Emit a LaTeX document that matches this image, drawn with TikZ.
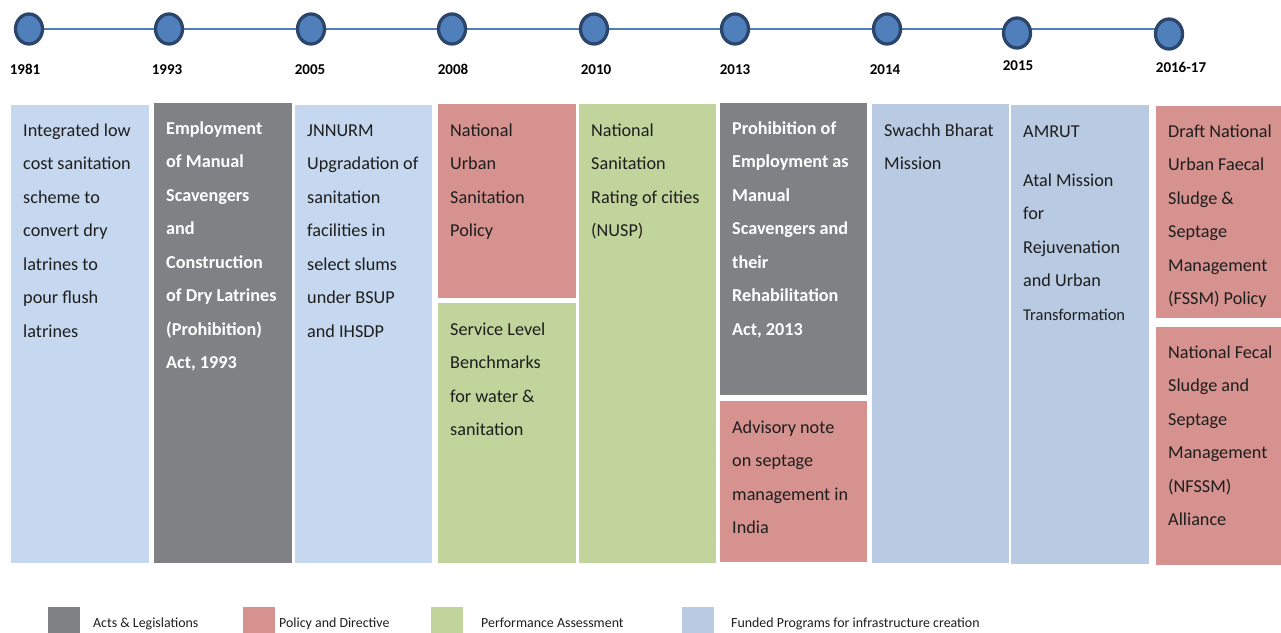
\documentclass[tikz,border=0pt]{standalone}
\usepackage{fontspec}
\setmainfont{Carlito}
\definecolor{cgray}{HTML}{808185}
\definecolor{cpink}{HTML}{D5928F}
\definecolor{cgreen}{HTML}{C1D49C}
\definecolor{cblueA}{HTML}{C6D8EF}
\definecolor{cblueB}{HTML}{B9CBE2}
\definecolor{cdot}{HTML}{5080BC}
\definecolor{cdotb}{HTML}{2C466B}
\definecolor{cline}{HTML}{4F7FBA}
\definecolor{ctext}{HTML}{1E1E1E}
\tikzset{
  box/.style={inner sep=0pt, outer sep=0pt, draw=none, anchor=north west},
  txt/.style={anchor=north west, inner sep=0pt, align=left, text=ctext,
    font=\fontsize{18.2}{33.5}\selectfont},
  btxt/.style={txt, text=white, font=\fontsize{18.2}{33.5}\selectfont\bfseries},
  dot/.style={ellipse, fill=cdot, draw=cdotb, line width=3.3pt,
    minimum width=27pt, minimum height=30pt, inner sep=0pt},
  year/.style={font=\fontsize{15}{15}\selectfont\bfseries, text=black, inner sep=0pt, anchor=base},
  legtxt/.style={font=\fontsize{13.9}{14}\selectfont, text=ctext, inner sep=0pt, anchor=base west},
}
\usetikzlibrary{shapes.geometric}
\newcommand{\st}{\rule{0pt}{14pt}}
\begin{document}
\begin{tikzpicture}[x=1pt,y=-1pt]
\useasboundingbox[fill=white] (0,0) rectangle (1281,632);
% timeline
\coordinate (ls) at (29,29);
\coordinate (le) at (1160,29);
\draw[cline, line width=2.8pt] (ls) -- (le);
\node[dot] (d1) at (29,29) {};
\node[dot] (d2) at (169,29) {};
\node[dot] (d3) at (311,29) {};
\node[dot] (d4) at (452,29) {};
\node[dot] (d5) at (594,29) {};
\node[dot] (d6) at (735,29) {};
\node[dot] (d7) at (887,29) {};
\node[dot] (d8) at (1017,33) {};
\node[dot] (d9) at (1169,34) {};
\node[year] (y1) at (25,74) {1981};
\node[year] (y2) at (167,74) {1993};
\node[year] (y3) at (310,74) {2005};
\node[year] (y4) at (453,74) {2008};
\node[year] (y5) at (596,74) {2010};
\node[year] (y6) at (735,74) {2013};
\node[year] (y7) at (885,74) {2014};
\node[year] (y8) at (1018,70) {2015};
\node[year] (y9) at (1181,72) {2016-17};
% boxes
\node[box, fill=cblueA, minimum width=138pt, minimum height=458pt] (b1) at (11,105) {};
\node[box, fill=cgray,  minimum width=138pt, minimum height=460pt] (b2) at (154,103) {};
\node[box, fill=cblueA, minimum width=137pt, minimum height=458pt] (b3) at (295,105) {};
\node[box, fill=cpink,  minimum width=138pt, minimum height=194pt] (b4a) at (438,104) {};
\node[box, fill=cgreen, minimum width=138pt, minimum height=260pt] (b4b) at (438,303) {};
\node[box, fill=cgreen, minimum width=137pt, minimum height=459pt] (b5) at (579,104) {};
\node[box, fill=cgray,  minimum width=147pt, minimum height=292pt] (b6a) at (720,103) {};
\node[box, fill=cpink,  minimum width=147pt, minimum height=161pt] (b6b) at (720,401) {};
\node[box, fill=cblueB, minimum width=137pt, minimum height=459pt] (b7) at (872,104) {};
\node[box, fill=cblueB, minimum width=138pt, minimum height=459pt] (b8) at (1011,105) {};
\node[box, fill=cpink,  minimum width=125pt, minimum height=212pt] (b9a) at (1156,106) {};
\node[box, fill=cpink,  minimum width=125pt, minimum height=238pt] (b9b) at (1156,327) {};
% texts
\node[txt] (t1) at (23,122) {\st Integrated low\\cost sanitation\\scheme to\\convert dry\\latrines to\\pour flush\\latrines};
\node[btxt] (t2) at (166,120) {\st Employment\\of Manual\\Scavengers\\and\\Construction\\of Dry Latrines\\(Prohibition)\\Act, 1993};
\node[txt] (t3) at (307,122) {\st JNNURM\\Upgradation of\\sanitation\\facilities in\\select slums\\under BSUP\\and IHSDP};
\node[txt] (t4a) at (450,122) {\st National\\Urban\\Sanitation\\Policy};
\node[txt] (t4b) at (450,321) {\st Service Level\\Benchmarks\\for water \&\\sanitation};
\node[txt] (t5) at (591,122) {\st National\\Sanitation\\Rating of cities\\(NUSP)};
\node[btxt] (t6a) at (732,120) {\st Prohibition of\\Employment as\\Manual\\Scavengers and\\their\\Rehabilitation\\Act, 2013};
\node[txt] (t6b) at (732,419) {\st Advisory note\\on septage\\management in\\India};
\node[txt] (t7) at (884,122) {\st Swachh Bharat\\Mission};
\node[txt] (t8) at (1023,123) {\st AMRUT\\[15.5pt]Atal Mission\\for\\Rejuvenation\\and Urban\\{\fontsize{16.5}{33.5}\selectfont Transformation}};
\node[txt] (t9a) at (1168,123) {\st Draft National\\Urban Faecal\\Sludge \&\\Septage\\Management\\(FSSM) Policy};
\node[txt] (t9b) at (1168,344) {\st National Fecal\\Sludge and\\Septage\\Management\\(NFSSM)\\Alliance};
% legend
\node[box, fill=cgray,  minimum width=32pt, minimum height=26pt] (l1) at (48,607) {};
\node[box, fill=cpink,  minimum width=32pt, minimum height=26pt] (l2) at (243,607) {};
\node[box, fill=cgreen, minimum width=32pt, minimum height=26pt] (l3) at (431,607) {};
\node[box, fill=cblueB, minimum width=32pt, minimum height=26pt] (l4) at (682,607) {};
\node[legtxt] (lt1) at (93,627) {Acts \& Legislations};
\node[legtxt] (lt2) at (279,627) {Policy and Directive};
\node[legtxt] (lt3) at (481,627) {Performance Assessment};
\node[legtxt] (lt4) at (731,627) {Funded Programs for infrastructure creation};
\end{tikzpicture}
\end{document}
